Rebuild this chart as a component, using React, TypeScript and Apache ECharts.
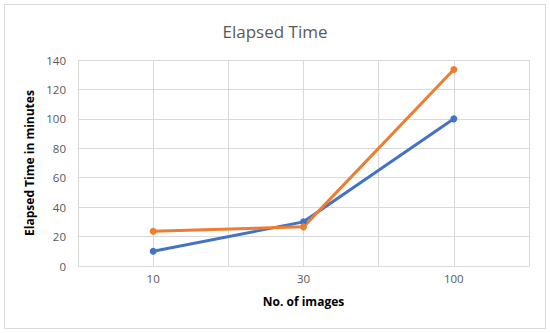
import React, { useEffect, useRef } from "react";
import * as echarts from "echarts";

const categories = ["10", "30", "100"];
const seriesBlue = [10, 30, 100];
const seriesOrange = [23.6, 26.6, 133.5];
const gridBins = ["a", "b", "c", "d", "e", "f"];

export default function App() {
  const ref = useRef<HTMLDivElement>(null);
  useEffect(() => {
    document.body.style.margin = "0";
    const chart = echarts.init(ref.current!, null, { renderer: "svg" });
    const font = "'Open Sans', 'Noto Sans', sans-serif";
    chart.setOption({
      animation: false,
      backgroundColor: "#ffffff",
      title: {
        text: "Elapsed Time",
        left: "center",
        top: 18,
        textStyle: { fontFamily: font, fontSize: 17, fontWeight: "normal", color: "#595959" },
      },
      graphic: [
        {
          type: "rect",
          shape: { x: 4.5, y: 4.5, width: 541, height: 324 },
          style: { fill: "none", stroke: "#d9d9d9", lineWidth: 1 },
          silent: true,
          z: -1,
        },
      ],
      grid: { left: 78, right: 21, top: 60, bottom: 67 },
      xAxis: [
        {
          type: "category",
          data: categories.map((c) => ({ value: c, textStyle: { color: "#595959" } })),
          boundaryGap: true,
          axisLine: { show: true, lineStyle: { color: "#d9d9d9" } },
          axisTick: { show: false },
          splitLine: { show: false },
          axisLabel: { color: "#595959", fontFamily: font, fontSize: 11.5, margin: 6 },
          name: "No. of images",
          nameLocation: "middle",
          nameGap: 29,
          nameTextStyle: { fontFamily: font, fontSize: 12, fontWeight: "bold", color: "#000000" },
        },
        {
          type: "category",
          data: gridBins,
          boundaryGap: true,
          position: "bottom",
          axisLine: { show: false },
          axisTick: { show: false },
          axisLabel: { show: false },
          splitLine: { show: true, lineStyle: { color: "#d9d9d9", width: 1 } },
        },
      ],
      yAxis: {
        type: "value",
        min: 0,
        max: 140,
        interval: 20,
        axisLine: { show: false },
        axisTick: { show: false },
        splitLine: { show: true, lineStyle: { color: "#d9d9d9", width: 1 } },
        axisLabel: { color: "#595959", fontFamily: font, fontSize: 11.5, margin: 12 },
        name: "Elapsed Time in minutes",
        nameLocation: "middle",
        nameGap: 38,
        nameRotate: 90,
        nameTextStyle: { fontFamily: font, fontSize: 12, fontWeight: "bold", color: "#000000" },
      },
      series: [
        {
          type: "line",
          xAxisIndex: 0,
          data: seriesBlue,
          symbol: "circle",
          symbolSize: 7,
          lineStyle: { color: "#4472C4", width: 3 },
          itemStyle: { color: "#4472C4" },
        },
        {
          type: "line",
          xAxisIndex: 0,
          data: seriesOrange,
          symbol: "circle",
          symbolSize: 7,
          lineStyle: { color: "#ED7D31", width: 3 },
          itemStyle: { color: "#ED7D31" },
        },
      ],
    });
    return () => chart.dispose();
  }, []);
  return <div ref={ref} style={{ width: 550, height: 333, position: "absolute", left: 0, top: 0 }} />;
}
